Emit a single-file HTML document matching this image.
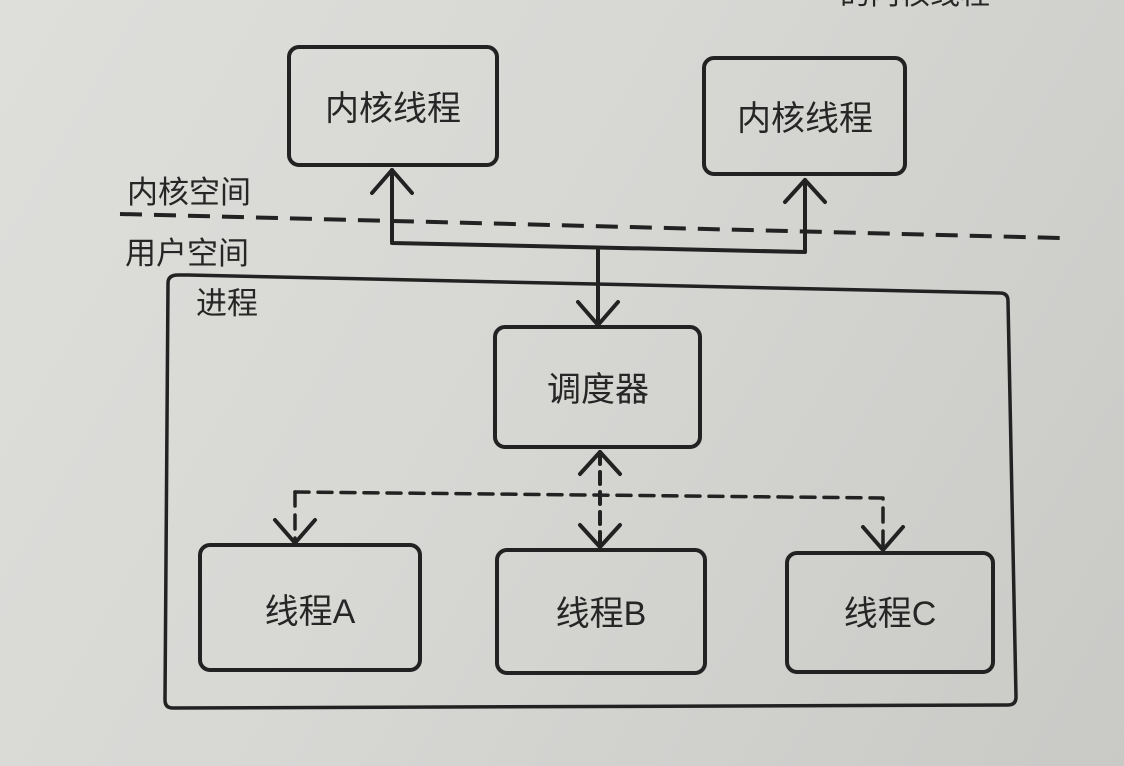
<!DOCTYPE html>
<html><head><meta charset="utf-8"><style>
html,body{margin:0;padding:0}
body{width:1124px;height:766px;overflow:hidden;background:linear-gradient(120deg,#dededb 0%,#d7d7d4 45%,#c9c9c6 100%)}
svg{display:block}
text{font-family:"Liberation Sans","Noto Sans CJK SC",sans-serif;fill:#262626}
</style></head><body>
<svg width="1124" height="766" viewBox="0 0 1124 766">
<text x="840" y="4" font-size="30" fill="#333">的内核线程</text>
<g fill="none" stroke="#222" stroke-width="4" stroke-linejoin="round" stroke-linecap="round">
<rect x="289" y="47" width="208" height="118" rx="10"/>
<rect x="704" y="58" width="201" height="116" rx="10"/>
<path d="M188 275 L1000 293 Q1008 293 1008 301 L1016 697 Q1016 705 1008 705 L173 708 Q165 708 165 700 L168 283 Q168 275 178 275 Z" stroke-width="3.5"/>
<rect x="495" y="327" width="205" height="120" rx="10"/>
<rect x="200" y="545" width="220" height="125" rx="10"/>
<rect x="497" y="550" width="208" height="123" rx="10"/>
<rect x="787" y="553" width="206" height="119" rx="10"/>
<path d="M392 170 L392 243 L805 252 L805 180"/>
<path d="M372 193 L392 170 L412 193"/>
<path d="M785 202 L805 180 L825 202"/>
<path d="M598 250 L598 323"/>
<path d="M578 302 L598 325 L618 302"/>
<path d="M600 452 L600 547" stroke-dasharray="12 8"/>
<path d="M580 474 L600 452 L620 474"/>
<path d="M580 525 L600 547 L620 525"/>
<path d="M295 492 L883 498 L883 548" stroke-dasharray="14 9" stroke-width="3.5"/>
<path d="M295 492 L295 542" stroke-dasharray="14 9" stroke-width="3.5"/>
<path d="M275 520 L295 543 L315 520"/>
<path d="M863 527 L883 550 L903 527"/>
</g>
<path d="M120 214 L1060 238" stroke="#222" stroke-width="4" stroke-dasharray="22 12" fill="none"/>
<text x="393" y="120" font-size="34" text-anchor="middle">内核线程</text>
<text x="805" y="130" font-size="34" text-anchor="middle">内核线程</text>
<text x="127" y="203" font-size="31">内核空间</text>
<text x="125" y="264" font-size="31">用户空间</text>
<text x="196" y="314" font-size="31">进程</text>
<text x="598" y="401" font-size="34" text-anchor="middle">调度器</text>
<text x="310" y="623" font-size="34" text-anchor="middle">线程A</text>
<text x="601" y="625" font-size="34" text-anchor="middle">线程B</text>
<text x="890" y="625" font-size="34" text-anchor="middle">线程C</text>
</svg>
</body></html>
